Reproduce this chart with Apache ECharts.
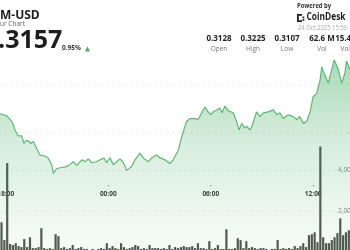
<!DOCTYPE html>
<html><head><meta charset="utf-8">
<script src="https://cdn.jsdelivr.net/npm/echarts@6/dist/echarts.min.js"></script>
<style>html,body{margin:0;padding:0;background:#fff;overflow:hidden}#c{width:350px;height:250px}</style>
</head><body><div id="c"></div>
<script>
// ---- data ----
const timeTicks = ['12:00', '18:00', '00:00', '06:00', '12:00', '18:00'];
const priceTimes = ['17:32','17:40','18:03','18:09','18:21','18:26','18:32','18:38','18:44','18:50','18:56','19:04','19:11','19:19','19:27','19:37','19:48','19:54','20:00','20:06','20:18','20:29','20:35','20:41','20:47','20:59','21:04','21:16','21:22','21:34','21:45','21:57','22:09','22:27','22:38','22:50','23:02','23:19','23:31','23:37','23:45','23:54','00:06','00:18','00:30','00:41','00:53','01:05','01:10','01:22','01:34','01:51','02:03','02:21','02:32','02:50','03:02','03:19','03:37','03:48','03:54','04:06','04:18','04:35','04:47','05:05','05:16','05:28','05:40','05:51','06:01','06:09','06:21','06:32','06:40','06:50','07:02','07:19','07:31','07:39','07:49','07:58','08:06','08:18','08:26','08:41','08:53','09:05','09:22','09:40','09:52','10:03','10:15','10:32','10:50','11:02','11:13','11:25','11:37','11:49','12:00','12:12','12:24','12:30','12:41','12:53','13:05','13:14','13:28','13:40','13:51','13:57','14:09','14:20'];
const priceValues = [0.3172,0.3169,0.3167,0.3168,0.3161,0.3158,0.3152,0.3149,0.3146,0.3145,0.3146,0.3138,0.3141,0.3141,0.3138,0.3140,0.3133,0.3131,0.3126,0.3124,0.3125,0.3123,0.3123,0.3116,0.3107,0.3112,0.3112,0.3113,0.3114,0.3114,0.3116,0.3119,0.3115,0.3121,0.3119,0.3122,0.3118,0.3119,0.3121,0.3123,0.3123,0.3118,0.3123,0.3116,0.3119,0.3122,0.3118,0.3110,0.3108,0.3114,0.3121,0.3128,0.3123,0.3119,0.3123,0.3126,0.3123,0.3121,0.3117,0.3121,0.3121,0.3131,0.3145,0.3161,0.3164,0.3164,0.3163,0.3170,0.3176,0.3171,0.3168,0.3171,0.3173,0.3175,0.3170,0.3177,0.3172,0.3170,0.3161,0.3152,0.3159,0.3154,0.3156,0.3152,0.3157,0.3171,0.3166,0.3170,0.3171,0.3173,0.3168,0.3170,0.3164,0.3168,0.3166,0.3163,0.3166,0.3159,0.3161,0.3171,0.3187,0.3190,0.3204,0.3218,0.3209,0.3201,0.3215,0.3225,0.3215,0.3201,0.3211,0.3224,0.3215,0.3217];
const volFirstBar = '17:30';
const volStepMin = 10;
const volValues = [300,1450,580,4340,390,340,430,290,240,630,240,720,190,190,240,1160,190,150,190,150,870,770,190,240,150,190,340,150,190,240,150,150,100,150,100,150,190,150,430,190,290,190,150,430,240,150,190,240,340,290,150,190,150,340,190,190,190,150,190,150,340,150,240,190,240,290,240,240,290,190,430,190,190,150,530,150,190,340,150,150,1110,150,150,190,670,580,190,530,190,240,190,150,190,190,150,100,150,150,580,150,190,150,190,150,290,190,290,430,240,820,870,960,480,5150,720,430,430,580,720,920,1640,820,960,1060];
const header = {pair: 'M-USD', sub: 'ur Chart', price: '.3157', change: '0.95%', powered: 'Powered by', brand: 'CoinDesk', stamp: '24 Oct 2025 15:59'};
const statValues = ['0.3128', '0.3225', '0.3107', '62.6 M', '15.4 M'];
const statLabels = ['Open', 'High', 'Low', 'Vol', 'Vol $'];

// ---- helpers ----
function toHour(t) { const [hh, mm] = t.split(':').map(Number); let m = hh * 60 + mm; if (hh >= 16) m -= 1440; return m / 60; }
const priceData = priceTimes.map((t, i) => [toHour(t), priceValues[i]]);
const v0 = toHour(volFirstBar);
const volData = volValues.map((v, i) => [v0 + (i * volStepMin + volStepMin / 2) / 60, v]);

const FONT = '"Open Sans", "Noto Sans", sans-serif';
const chart = echarts.init(document.getElementById('c'), null, {renderer: 'canvas'});
const gridL = -96.7, gridR = -65.7;
const dotted = {color: '#cfcfcf', width: 1, type: [1, 5]};
const statX = [219, 253, 287, 322, 348];

const graphics = [
  {type: 'text', left: 0, top: 10, style: {text: header.pair, font: 'bold 12px ' + FONT, fill: '#1d1d1d'}},
  {type: 'text', left: 0, top: 21, style: {text: header.sub, font: '6.5px ' + FONT, fill: '#666'}},
  {type: 'text', left: -2, top: 28, style: {text: header.price, font: 'bold 25px ' + FONT, fill: '#1d1d1d'}},
  {type: 'text', left: 62, top: 45, style: {text: header.change, font: 'bold 6.5px ' + FONT, fill: '#333'}},
  {type: 'polygon', shape: {points: [[85, 51.5], [90, 51.5], [87.5, 46.5]]}, style: {fill: '#4caf50'}},
  {type: 'text', x: 297, y: 3, scaleX: 0.9, style: {text: header.powered, font: 'bold 6.5px ' + FONT, fill: '#333'}},
  {type: 'rect', shape: {x: 297, y: 14, width: 1.8, height: 8}, style: {fill: '#222'}},
  {type: 'rect', shape: {x: 297, y: 14, width: 5, height: 1.8}, style: {fill: '#222'}},
  {type: 'rect', shape: {x: 297, y: 20.2, width: 5, height: 1.8}, style: {fill: '#222'}},
  {type: 'rect', shape: {x: 302.5, y: 16.5, width: 1.8, height: 1.8}, style: {fill: '#222'}},
  {type: 'rect', shape: {x: 302.5, y: 19, width: 1.8, height: 1.8}, style: {fill: '#222'}},
  {type: 'text', x: 306.5, y: 11.5, scaleX: 0.76, style: {text: header.brand, font: 'bold 11px ' + FONT, fill: '#1d1d1d'}},
  {type: 'text', x: 298, y: 25, scaleX: 0.86, style: {text: header.stamp, font: '6.8px ' + FONT, fill: '#a8a8a8'}}
];
statValues.forEach((s, i) => {
  graphics.push({type: 'text', x: statX[i], y: 39, style: {text: s, font: 'bold 8px ' + FONT, fill: '#222', align: 'center', verticalAlign: 'middle'}});
  graphics.push({type: 'text', x: statX[i], y: 49, style: {text: statLabels[i], font: '6.5px ' + FONT, fill: '#777', align: 'center', verticalAlign: 'middle'}});
});

chart.setOption({
  animation: false,
  backgroundColor: '#fff',
  grid: [
    {left: gridL, right: gridR, top: 36, bottom: -26, containLabel: false, outerBoundsMode: 'none'},
    {left: gridL, right: gridR, top: 170, bottom: -2, containLabel: false, outerBoundsMode: 'none'}
  ],
  xAxis: [
    {type: 'value', gridIndex: 0, min: -12, max: 18, interval: 6, position: 'bottom', offset: -91,
     axisLine: {show: false}, splitLine: {show: false},
     axisTick: {show: true, length: 1.5, lineStyle: {color: '#999', width: 1}},
     axisLabel: {margin: 6, color: '#333', fontSize: 6.5, fontWeight: 'bold', fontFamily: FONT,
       formatter: v => timeTicks[Math.round((v + 12) / 6)]}},
    {type: 'value', gridIndex: 1, min: -12, max: 18, interval: 6, show: false}
  ],
  yAxis: [
    {type: 'value', gridIndex: 0, min: 0.30, max: 0.325, interval: 0.005, position: 'right',
     axisLabel: {show: false}, axisLine: {show: false}, axisTick: {show: false},
     splitLine: {show: true, lineStyle: Object.assign({}, dotted, {color: ['rgba(0,0,0,0)', 'rgba(0,0,0,0)', 'rgba(0,0,0,0)', '#cfcfcf', '#cfcfcf', 'rgba(0,0,0,0)']})}},
    {type: 'value', gridIndex: 1, min: 0, max: 4000, interval: 2000, position: 'right', offset: -79.7,
     axisLine: {show: false}, axisTick: {show: false},
     axisLabel: {margin: 2, color: '#888', fontSize: 6.5, fontFamily: FONT, showMinLabel: false},
     splitLine: {show: true, showMinLine: false, lineStyle: dotted}}
  ],
  series: [
    {type: 'line', xAxisIndex: 0, yAxisIndex: 0, data: priceData, symbol: 'none', smooth: false,
     lineStyle: {color: '#5db872', width: 1.2},
     areaStyle: {color: new echarts.graphic.LinearGradient(0, 0, 0, 1, [
       {offset: 0, color: 'rgba(60,170,90,0.62)'},
       {offset: 0.4, color: 'rgba(60,170,90,0.28)'},
       {offset: 0.88, color: 'rgba(60,170,90,0.06)'},
       {offset: 1, color: 'rgba(60,170,90,0.03)'}])}},
    {type: 'bar', xAxisIndex: 1, yAxisIndex: 1, data: volData, barWidth: 2.2, clip: false,
     itemStyle: {color: '#50564f'}}
  ],
  graphic: graphics
});
</script></body></html>
